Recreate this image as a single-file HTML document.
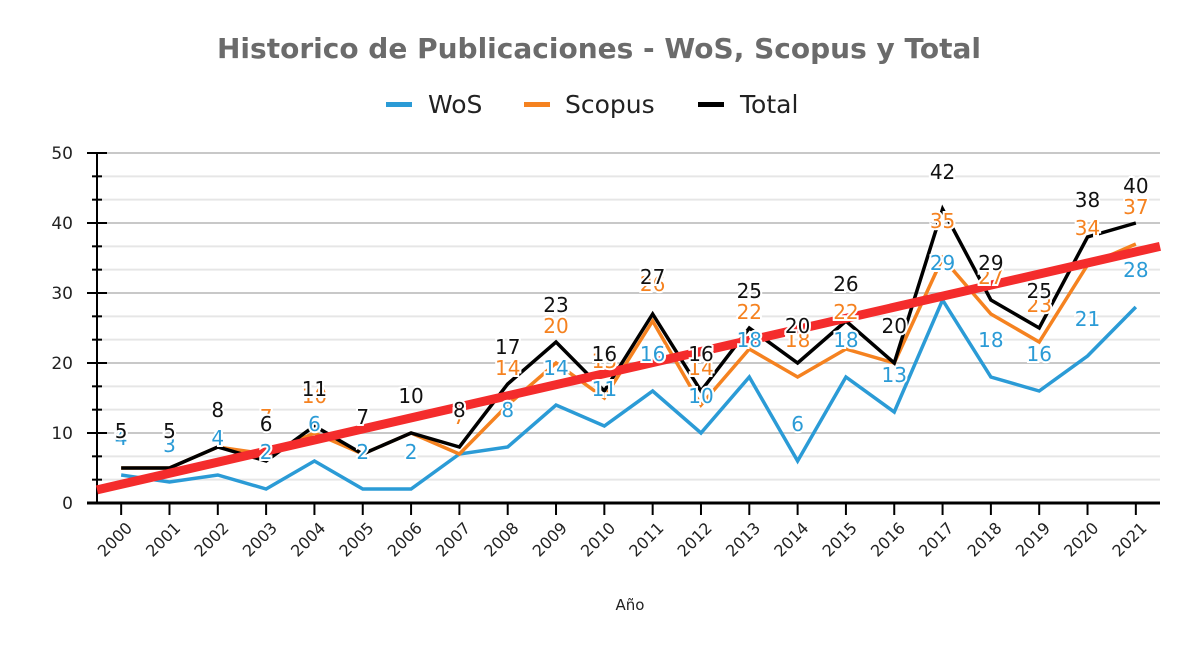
<!DOCTYPE html>
<html><head><meta charset="utf-8"><style>
body{margin:0;background:#fff}
svg text{font-family:"DejaVu Sans","Liberation Sans",sans-serif}
.lbl{font-size:20px;paint-order:stroke;stroke:#fff;stroke-width:4px;text-anchor:middle}
</style></head><body>
<svg id="chart" width="1198" height="648" viewBox="0 0 1198 648">
<text x="599" y="58" text-anchor="middle" font-size="28" font-weight="bold" fill="#6b6b6b">Historico de Publicaciones - WoS, Scopus y Total</text>
<g font-size="25" fill="#222">
<g><rect x="386" y="102" width="26" height="5" fill="#2b9bd6"/><text x="428" y="113">WoS</text></g>
<g><rect x="524" y="102" width="26" height="5" fill="#f58220"/><text x="565" y="113">Scopus</text></g>
<g><rect x="698" y="102" width="26" height="5" fill="#000"/><text x="740" y="113">Total</text></g>
</g>
<g id="grid"></g><g id="axes"></g><g id="series"></g><g id="labels"></g>
<text x="630" y="610" text-anchor="middle" font-size="15" fill="#222">Año</text>
</svg>
<script>
const years=[2000,2001,2002,2003,2004,2005,2006,2007,2008,2009,2010,2011,2012,2013,2014,2015,2016,2017,2018,2019,2020,2021];
const wos=[4,3,4,2,6,2,2,7,8,14,11,16,10,18,6,18,13,29,18,16,21,28];
const scopus=[5,5,8,7,10,7,10,7,14,20,15,26,14,22,18,22,20,35,27,23,34,37];
const total=[5,5,8,6,11,7,10,8,17,23,16,27,16,25,20,26,20,42,29,25,38,40];
const yTicks=[0,10,20,30,40,50];
const NS="http://www.w3.org/2000/svg";
const X0=97,X1=1160,Y0=503,YMAX=50,YTOP=153;
const step=(X1-X0)/years.length;
const x=i=>X0+step*(i+0.5);
const y=v=>Y0-(v/YMAX)*(Y0-YTOP);
function mk(p,t,a){const e=document.createElementNS(NS,t);for(const k in a)e.setAttribute(k,a[k]);p.appendChild(e);return e;}
const grid=document.getElementById('grid'),axes=document.getElementById('axes'),series=document.getElementById('series'),labels=document.getElementById('labels');
for(let v=0;v<=YMAX+0.01;v+=10/3){
 const major=Math.abs(v/10-Math.round(v/10))<0.01;
 const g=mk(grid,'line',{x1:X0,x2:X1,y1:y(v),y2:y(v),stroke:major?'#c8c8c8':'#e6e6e6','stroke-width':2});
 
 
 const t=mk(axes,'line',{x1:major?X0-10:X0-5,x2:major?X0+10:X0+5,y1:y(v),y2:y(v),stroke:'#000','stroke-width':2});
 
 
}
yTicks.forEach(v=>{const t=mk(axes,'text',{x:X0-24,y:y(v)+6,'text-anchor':'end','font-size':17,fill:'#222'});t.textContent=v;
 
 });
const ya=mk(axes,'line',{x1:X0,x2:X0,y1:YTOP,y2:Y0,stroke:'#000','stroke-width':2});


const xa=mk(axes,'line',{x1:X0-10,x2:X1,y1:Y0,y2:Y0,stroke:'#000','stroke-width':3});


years.forEach((yr,i)=>{
 const t=mk(axes,'line',{x1:x(i),x2:x(i),y1:Y0,y2:Y0+12,stroke:'#000','stroke-width':2});
 
 
 const lx=x(i)+12,ly=Y0+26;
 const l=mk(axes,'text',{x:lx,y:ly,'text-anchor':'end','font-size':16,fill:'#222',transform:`rotate(-45 ${lx} ${ly})`});
 l.textContent=yr;
 
 
});
function line(arr,color,w,name){
 const p=mk(series,'polyline',{points:arr.map((v,i)=>x(i)+','+y(v)).join(' '),fill:'none',stroke:color,'stroke-width':w,'stroke-linejoin':'miter'});
 
 
}
line(wos,'#2b9bd6',3.5,'wos-line');
line(scopus,'#f58220',3.5,'scopus-line');
line(total,'#000',3.5,'total-line');
const n=total.length;let sx=0,sy=0,sxx=0,sxy=0;
total.forEach((v,i)=>{sx+=i;sy+=v;sxx+=i*i;sxy+=i*v;});
const b=(n*sxy-sx*sy)/(n*sxx-sx*sx),a=(sy-b*sx)/n;
const tr=mk(series,'line',{x1:X0,y1:y(a+b*-0.5),x2:X1,y2:y(a+b*(n-0.5)),stroke:'#f42c2c','stroke-width':9});


function lab(arr,color,name){arr.forEach((v,i)=>{
 const t=mk(labels,'text',{x:x(i),y:y(v)-30,fill:color,class:'lbl'});t.textContent=v;
 
 
});}
lab(wos,'#2b9bd6','wos-value-label');
lab(scopus,'#f58220','scopus-value-label');
lab(total,'#111','total-value-label');
</script>
</body></html>
